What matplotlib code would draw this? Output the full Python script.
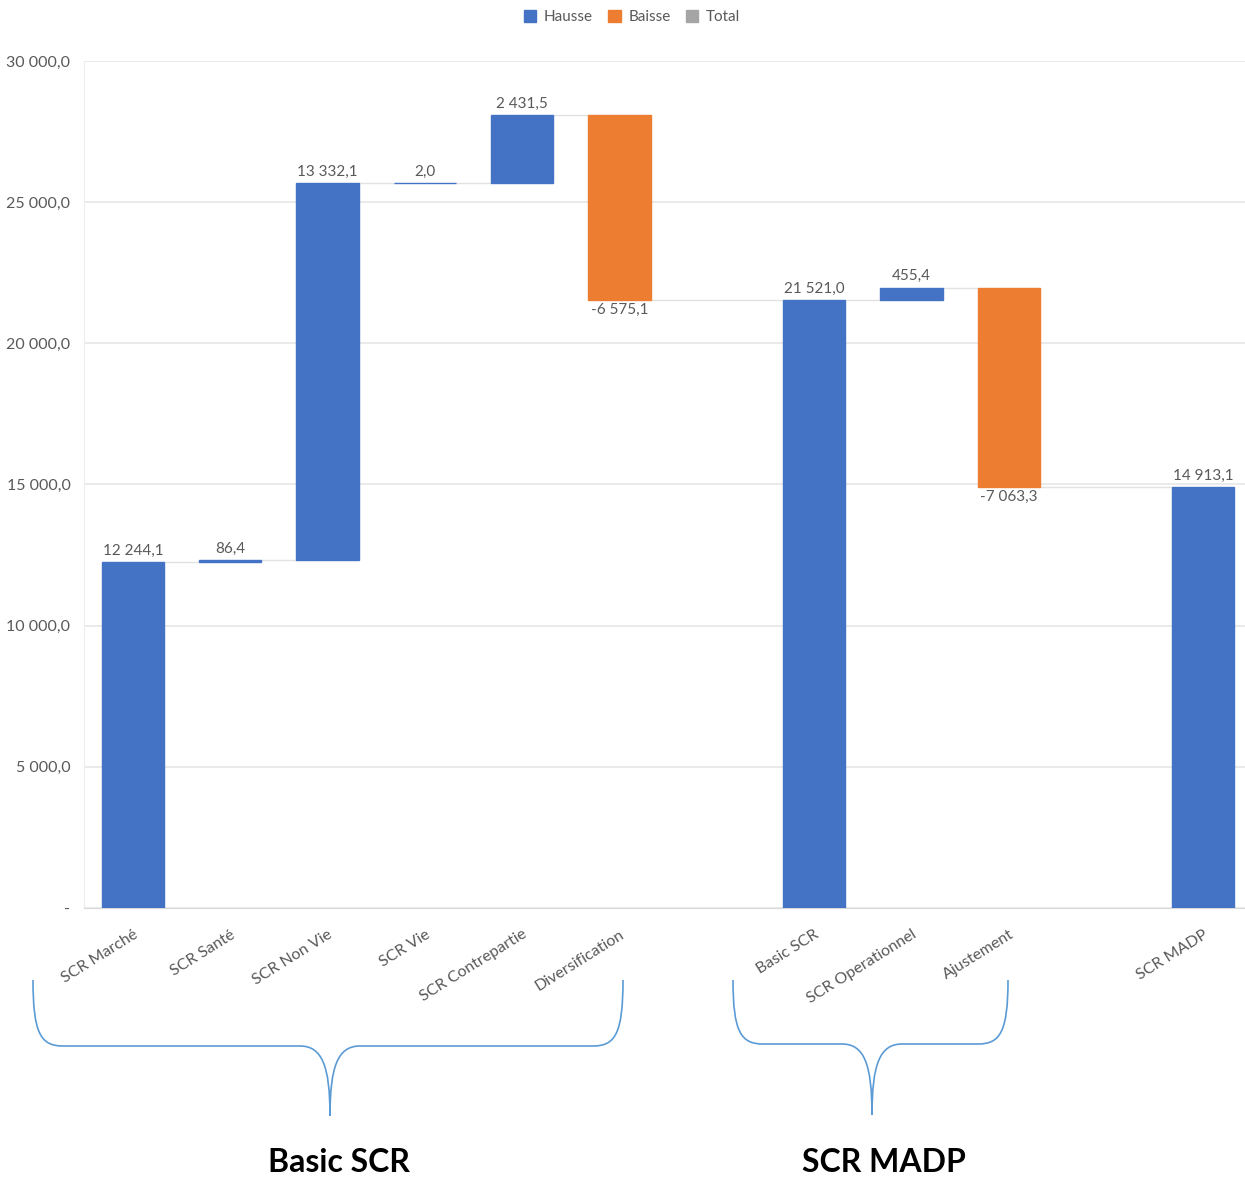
import matplotlib
matplotlib.use("Agg")
import matplotlib.pyplot as plt
from matplotlib.patches import Patch, PathPatch
from matplotlib.path import Path
from matplotlib.transforms import Affine2D

plt.rcParams['font.family'] = ['Lato', 'DejaVu Sans']

# ---- data -------------------------------------------------------------
categories = ["SCR Marché", "SCR Santé", "SCR Non Vie", "SCR Vie",
              "SCR Contrepartie", "Diversification", "",
              "Basic SCR", "SCR Operationnel", "Ajustement", "",
              "SCR MADP"]
# None = empty slot between groups
steps = [12244.1, 86.4, 13332.1, 2.0, 2431.5, -6575.1, None,
         21521.0, 455.4, -7063.3, None, 14913.1]
# subtotals start from zero
is_total = [False, False, False, False, False, False, False,
            True, False, False, False, True]
yticks = [0, 5000, 10000, 15000, 20000, 25000, 30000]
ytick_labels = ["-", "5 000,0", "10 000,0", "15 000,0", "20 000,0",
                "25 000,0", "30 000,0"]
legend_labels = ["Hausse", "Baisse", "Total"]
group_labels = ["Basic SCR", "SCR MADP"]

# ---- style ------------------------------------------------------------
W, H = 1245, 1187
UP, DOWN, TOTAL = "#4472C4", "#ED7D31", "#A5A5A5"
TXT = "#595959"
GRID = "#E6E6E6"
BRACE = "#5B9BD5"
BAR_W = 0.64


def fr(v):
    s = f"{abs(v):,.1f}".replace(",", " ").replace(".", ",")
    return ("-" if v < 0 else "") + s


fig = plt.figure(figsize=(W / 100, H / 100), dpi=100)
ax = fig.add_axes([84.3 / W, 1 - 908 / H, 1167.7 / W, (908 - 61) / H])

running = 0.0
bars = []  # (x, level after the bar)
for i, v in enumerate(steps):
    if v is None:
        continue
    if is_total[i]:
        bottom, height, color = 0.0, v, UP
        running = v
    elif v >= 0:
        bottom, height, color = running, v, UP
        running += v
    else:
        bottom, height, color = running + v, -v, DOWN
        running += v
    # thin outline keeps very small steps visible as a line
    ax.bar(i, height, bottom=bottom, width=BAR_W, color=color,
           edgecolor=color, lw=1.0, zorder=3)
    top = bottom + height
    if v >= 0:
        ax.annotate(fr(v), (i, top), xytext=(0, 3), textcoords="offset points",
                    ha="center", va="bottom", fontsize=11, color=TXT, zorder=4)
    else:
        ax.annotate(fr(v), (i, bottom), xytext=(0, -2), textcoords="offset points",
                    ha="center", va="top", fontsize=11, color=TXT, zorder=4)
    bars.append((i, running))

# connector lines between consecutive bars
for (x0, lvl), (x1, _) in zip(bars[:-1], bars[1:]):
    ax.plot([x0 + BAR_W / 2, x1 - BAR_W / 2], [lvl, lvl], color="#E2E2E2",
            lw=1.0, zorder=2)

ax.set_xlim(-0.5, len(categories) - 0.5)
ax.set_ylim(0, 30000)
ax.set_yticks(yticks)
ax.set_yticklabels(ytick_labels, fontsize=11.5, color=TXT)
ax.set_xticks(range(len(categories)))
ax.set_xticklabels(categories, rotation=32, ha="right", rotation_mode="anchor",
                   fontsize=11.5, color=TXT)
ax.tick_params(axis="y", length=0, pad=10)
ax.tick_params(axis="x", length=0, pad=14)
ax.grid(axis="y", color=GRID, lw=1.2, zorder=0)
ax.set_axisbelow(True)
for s in ["top", "right"]:
    ax.spines[s].set_visible(False)
ax.spines["left"].set_color("#EDEDED")
ax.spines["bottom"].set_color("#D9D9D9")

# legend
handles = [Patch(color=c) for c in (UP, DOWN, TOTAL)]
fig.legend(handles, legend_labels, loc="center", bbox_to_anchor=(632 / W, 1 - 17 / H),
           ncol=3, frameon=False, fontsize=11, labelcolor=TXT,
           handlelength=0.8, handleheight=0.8, handletextpad=0.5, columnspacing=1.0)

# braces under the two groups (pixel coordinates, origin top-left)
px = Affine2D().scale(1 / W, -1 / H).translate(0, 1) + fig.transFigure


def brace(xl, xr, xt, ytop, yh, ytip, r=30):
    verts = [
        (xl, ytop), (xl, yh - 12), (xl + 8, yh), (xl + r, yh),
        (xt - r, yh),
        (xt - 8, yh), (xt, yh + 20), (xt, ytip),
        (xt, yh + 20), (xt + 8, yh), (xt + r, yh),
        (xr - r, yh),
        (xr - 8, yh), (xr, yh - 12), (xr, ytop),
    ]
    codes = [Path.MOVETO, Path.CURVE4, Path.CURVE4, Path.CURVE4,
             Path.LINETO,
             Path.CURVE4, Path.CURVE4, Path.CURVE4,
             Path.CURVE4, Path.CURVE4, Path.CURVE4,
             Path.LINETO,
             Path.CURVE4, Path.CURVE4, Path.CURVE4]
    fig.patches.append(PathPatch(Path(verts, codes), transform=px, fill=False,
                                 edgecolor=BRACE, lw=1.2))


brace(33, 623, 330, 980, 1046, 1116)
brace(733, 1008, 872, 980, 1044, 1115)

fig.text(339 / W, 1 - 1163 / H, group_labels[0], ha="center", va="center",
         fontsize=23, fontweight="bold", color="black")
fig.text(884 / W, 1 - 1163 / H, group_labels[1], ha="center", va="center",
         fontsize=23, fontweight="bold", color="black")

fig.savefig("out.png", dpi=100, facecolor="white")
